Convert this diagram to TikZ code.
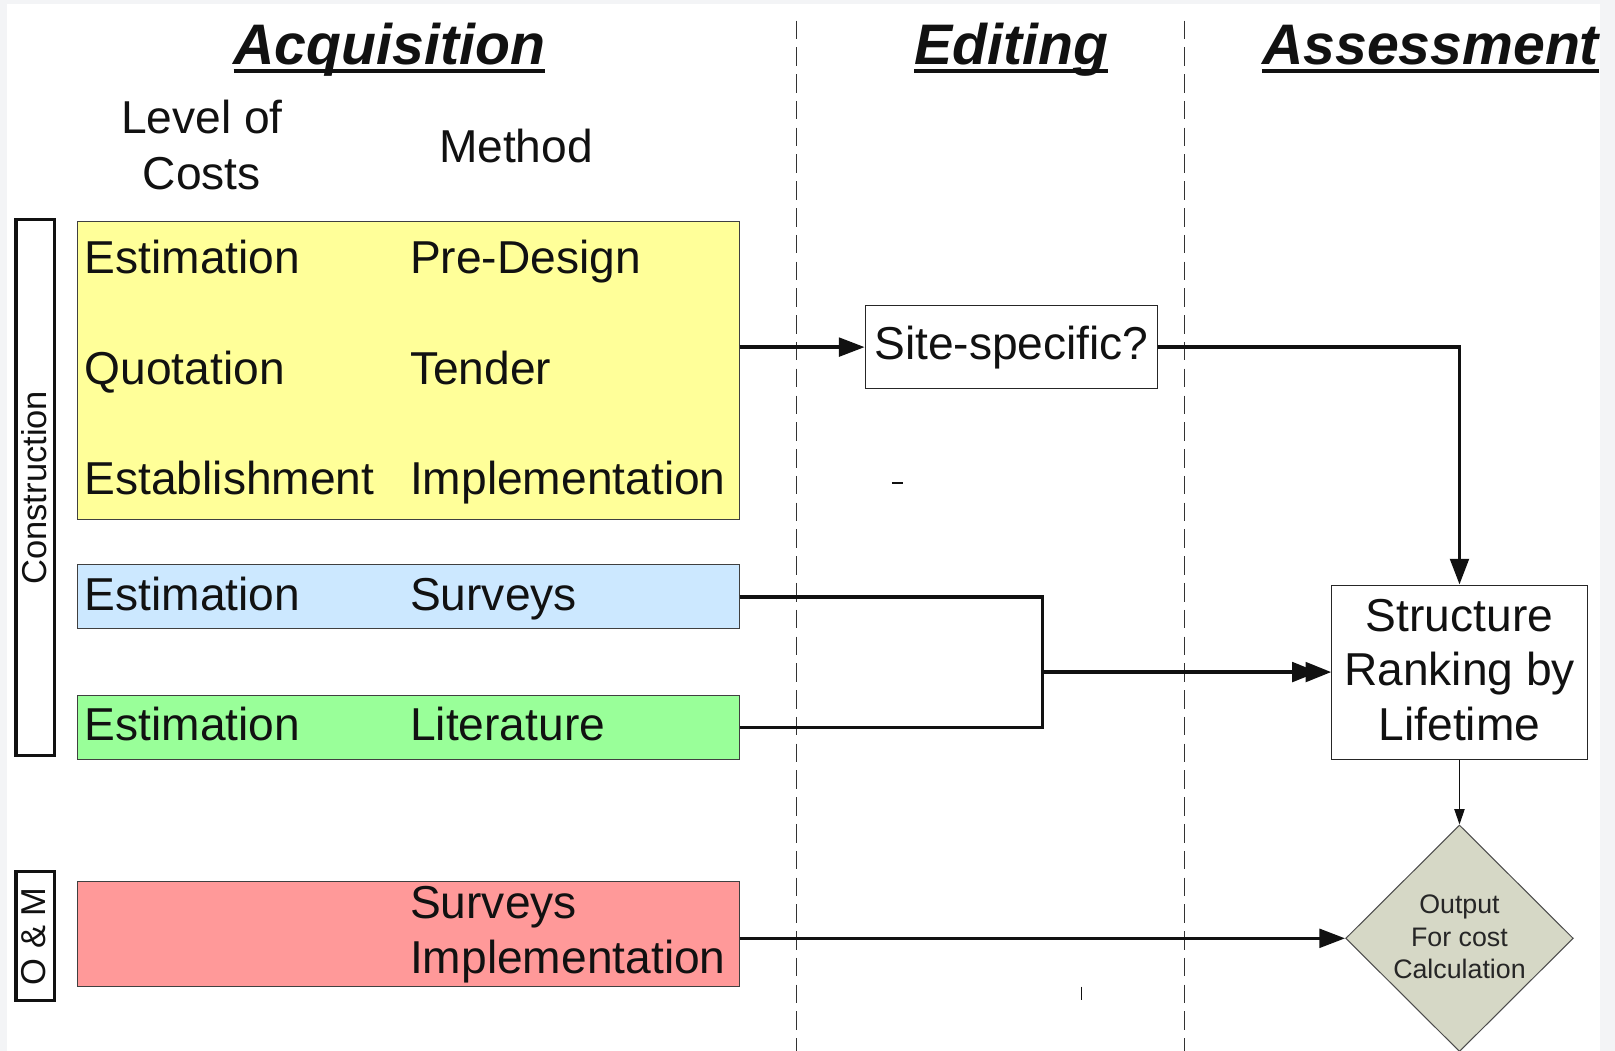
\documentclass[tikz,border=0pt]{standalone}
\usepackage{fontspec}
\setmainfont{Liberation Sans}
\usetikzlibrary{arrows.meta,shapes.geometric}

\definecolor{cyellow}{HTML}{FFFF99}
\definecolor{cblue}{HTML}{CCE8FF}
\definecolor{cgreen}{HTML}{99FF99}
\definecolor{cred}{HTML}{FF9999}
\definecolor{cdia}{HTML}{D6D8C6}
\definecolor{frame}{HTML}{F3F4F6}
\definecolor{ink}{HTML}{111111}

\tikzset{
  lbl/.style={inner sep=0pt, anchor=base west, text=ink, font=\fontsize{44.8}{52}\selectfont},
  clbl/.style={inner sep=0pt, anchor=base, text=ink, font=\fontsize{44.8}{52}\selectfont},
  dlbl/.style={inner sep=0pt, anchor=base, text=black!85, font=\fontsize{26}{30}\selectfont},
  heading/.style={inner sep=0pt, anchor=base, text=ink, font=\fontsize{55.5}{60}\selectfont\bfseries\itshape},
  headline/.style={line width=4pt, draw=ink},
  band/.style={draw=black!75, line width=1pt, anchor=north west, inner sep=0pt},
  phase/.style={draw=ink, line width=3pt, anchor=north west, inner sep=0pt},
  phaselbl/.style={inner sep=0pt, rotate=90, text=ink, font=\fontsize{33.5}{36}\selectfont},
  flowbox/.style={draw=black!85, line width=1pt, fill=white, inner sep=0pt},
  divider/.style={draw=black!80, line width=1.3pt, dash pattern=on 18pt off 8pt},
  link/.style={draw=ink, line width=3.5pt},
  flow/.style={link, -{Triangle[length=25pt,width=18pt]}},
  dflow/.style={link, -{Triangle[length=25pt,width=19pt,sep=-12pt]Triangle[length=25pt,width=19pt]}},
  thinflow/.style={draw=ink, line width=1.2pt, -{Triangle[length=15pt,width=10pt]}},
}

\begin{document}
\begin{tikzpicture}[x=1pt,y=-1pt]
% page and light frame
\useasboundingbox (0,0) rectangle (1568,1020);
\fill[frame] (0,0) rectangle (1568,1020);
\fill[white] (7,4) rectangle (1553,1020);

% column dividers
\coordinate (d1top) at (773,20);
\coordinate (d1bot) at (773,1020);
\coordinate (d2top) at (1150,20);
\coordinate (d2bot) at (1150,1020);
\draw[divider] (d1top) -- (d1bot);
\draw[divider] (d2top) -- (d2bot);

% column headings
\node[heading] (hacq) at (378,63) {Acquisition};
\node[heading] (hedit) at (982,63) {Editing};
\node[heading] (hass) at (1389,63) {Assessment};
\foreach \h in {hacq,hedit,hass}
  \draw[headline] ([yshift=-6pt]\h.base west) -- ([yshift=-6pt]\h.base east);

% sub headings
\node[clbl] (lev1) at (196,130) {Level of};
\node[clbl] (lev2) at (196,184) {Costs};
\node[clbl] (meth) at (501,158) {Method};

% phase brackets
\node[phase, minimum width=37pt, minimum height=520pt] (con) at (14,212) {};
\node[phaselbl] (contxt) at ([xshift=-1pt]con.center) {Construction};
\node[phase, minimum width=37pt, minimum height=125pt] (om) at (14,845) {};
\node[phaselbl] (omtxt) at ([xshift=-1pt]om.center) {O \& M};

% acquisition bands
\node[band, fill=cyellow, minimum width=642pt, minimum height=289pt] (yel) at (75,215) {};
\node[band, fill=cblue, minimum width=642pt, minimum height=62pt] (blue) at (75,548) {};
\node[band, fill=cgreen, minimum width=642pt, minimum height=62pt] (green) at (75,675) {};
\node[band, fill=cred, minimum width=642pt, minimum height=102pt] (red) at (75,855) {};

\node[lbl] (y1a) at (82,266) {Estimation};
\node[lbl] (y1b) at (398,266) {Pre-Design};
\node[lbl] (y2a) at (82,373) {Quotation};
\node[lbl] (y2b) at (398,373) {Tender};
\node[lbl] (y3a) at (82,480) {Establishment};
\node[lbl] (y3b) at (398,480) {Implementation};
\node[lbl] (b1a) at (82,593) {Estimation};
\node[lbl] (b1b) at (398,593) {Surveys};
\node[lbl] (g1a) at (82,719) {Estimation};
\node[lbl] (g1b) at (398,719) {Literature};
\node[lbl] (r1b) at (398,892) {Surveys};
\node[lbl] (r2b) at (398,945) {Implementation};

% editing and assessment steps
\node[flowbox, minimum width=284pt, minimum height=80pt, text=ink,
      font=\fontsize{44.8}{52}\selectfont] (site) at (982,337) {Site-specific?};
\node[flowbox, minimum width=248pt, minimum height=169pt] (str) at (1417,652.5) {};
\node[clbl] (s1) at (1417,613) {Structure};
\node[clbl] (s2) at (1417,666) {Ranking by};
\node[clbl] (s3) at (1417,719) {Lifetime};
\node[diamond, draw=black!70, line width=1pt, fill=cdia, minimum width=221pt,
      minimum height=220pt, inner sep=0pt] (dia) at (1417,911) {};
\node[dlbl] (o1) at (1417,887) {Output};
\node[dlbl] (o2) at (1417,919) {For cost};
\node[dlbl] (o3) at (1417,950) {Calculation};

% connectors
\coordinate (j) at (1012,652.5);
\draw[flow] (yel.east |- site) -- (site.west);
\draw[flow] (site.east) -| (str.north);
\draw[link] (blue.east) -| (j) |- (green.east);
\draw[dflow] (j) -- (str.west);
\draw[thinflow] (str.south) -- (dia.north);
\draw[flow] (red.east |- dia) -- (dia.west);

% small marks
\draw[draw=ink, line width=1.3pt] (866,469) -- (877,469);
\draw[draw=ink, line width=1.3pt] (1050,958) -- (1050,971);
\end{tikzpicture}
\end{document}
